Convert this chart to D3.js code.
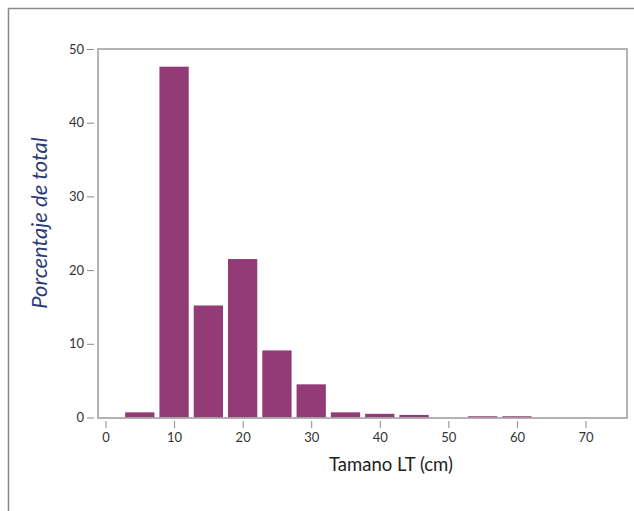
<!DOCTYPE html>
<html><head><meta charset="utf-8">
<script src="https://cdn.jsdelivr.net/npm/d3@7"></script>
<style>body{margin:0;background:#fff}svg{display:block}</style>
</head><body>
<svg id="c" width="634" height="511"></svg>
<script>
const binCenters = [5,10,15,20,25,30,35,40,45,50,55,60,65,70];
const percents   = [0.7,47.6,15.2,21.5,9.1,4.5,0.7,0.5,0.35,0,0.17,0.17,0,0];
const xTicks = [0,10,20,30,40,50,60,70];
const yTicks = [0,10,20,30,40,50];
const xTitle = "Tamano LT (cm)";
const yTitle = "Porcentaje de total";

const svg = d3.select("#c");
const font = "Lato, 'Open Sans', sans-serif";
// outer frame
svg.append("path").attr("d","M8.5,511 L8.5,8.5 L634,8.5").attr("fill","none").attr("stroke","#8a8a8a").attr("stroke-width",1.5);

const box = {l:98, r:627, t:49, b:418};
const x = d3.scaleLinear().domain([0,70]).range([105.5,585.5]);
const y = d3.scaleLinear().domain([0,50]).range([417.5,49]);
const bw = (x(5)-x(0)) - 5;

svg.append("g").selectAll("rect").data(binCenters.map((c,i)=>({c,v:percents[i]})).filter(d=>d.v>0))
  .join("rect")
  .attr("x",d=>x(d.c)-bw/2).attr("width",bw)
  .attr("y",d=>y(d.v)).attr("height",d=>y(0)-y(d.v))
  .attr("fill","#923b77");

svg.append("rect").attr("x",box.l).attr("y",box.t).attr("width",box.r-box.l).attr("height",box.b-box.t)
  .attr("fill","none").attr("stroke","#9a9a9a").attr("stroke-width",1.5);

const ya = svg.append("g").attr("transform",`translate(${box.l-4},0)`)
  .call(d3.axisLeft(y).tickValues(yTicks).tickSize(7).tickPadding(3));
const xa = svg.append("g").attr("transform",`translate(0,${box.b+3})`)
  .call(d3.axisBottom(x).tickValues(xTicks).tickSize(7).tickPadding(5));
[ya,xa].forEach(a=>{
  a.select(".domain").remove();
  a.selectAll(".tick line").attr("stroke","#8a8a8a").attr("stroke-width",1);
  a.selectAll(".tick text").attr("fill","#333").style("font-family",font).style("font-size","13px");
});

svg.append("text").attr("x",391).attr("y",471).attr("text-anchor","middle")
  .style("font-family",font).style("font-size","18.5px").attr("fill","#222").text(xTitle);
svg.append("text").attr("transform","translate(47,223) rotate(-90)").attr("text-anchor","middle")
  .style("font-family",font).style("font-size","22px").style("font-style","italic").attr("fill","#2a3b78").text(yTitle);
</script>
</body></html>
